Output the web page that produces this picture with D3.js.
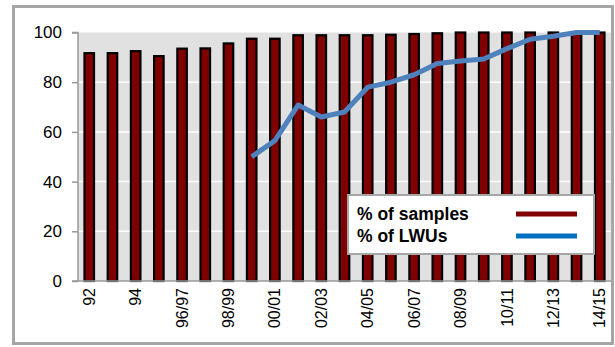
<!DOCTYPE html>
<html><head><meta charset="utf-8">
<script src="https://cdn.jsdelivr.net/npm/d3@7"></script>
<style>body{margin:0;background:#fff;}svg{display:block;}</style>
</head><body>
<svg id="c" width="615" height="347"></svg>
<script>
const categories = ["92","93","94","95","96/97","97/98","98/99","99/00","00/01","01/02","02/03","03/04","04/05","05/06","06/07","07/08","08/09","09/10","10/11","11/12","12/13","13/14","14/15"];
const tickLabels = ["92","94","96/97","98/99","00/01","02/03","04/05","06/07","08/09","10/11","12/13","14/15"];
const samples = [91.7,91.7,92.5,90.5,93.5,93.6,95.6,97.5,97.5,98.9,98.9,98.9,98.9,99.1,99.4,99.7,100,100,100,100,100,100,100];
const lwus = [null,null,null,null,null,null,null,50,56.5,70.8,66,68,78,80,83,87.5,88.5,89.3,93.5,97.3,98.5,100,100];
const yTicks = [0,20,40,60,80,100];
const seriesNames = ["% of samples","% of LWUs"];

const svg = d3.select("#c");
const L = 78, R = 611, T = 32.5, B = 281;
const x = d3.scaleBand().domain(categories).range([L, R]).paddingInner(0.59).paddingOuter(0.28);
const y = d3.scaleLinear().domain([0,100]).range([B, T]);

// outer frame
svg.append("rect").attr("x",13.5).attr("y",6.5).attr("width",599).attr("height",337)
  .attr("fill","#fff").attr("stroke","#a6a6a6").attr("stroke-width",3);

// plot background
svg.append("rect").attr("x",L).attr("y",T).attr("width",R-L).attr("height",B-T).attr("fill","#e1e1e1");

// gridlines
svg.append("g").selectAll("line").data(yTicks.filter(d=>d>0 && d<100)).join("line")
  .attr("x1",L).attr("x2",R).attr("y1",d=>y(d)).attr("y2",d=>y(d))
  .attr("stroke","#fff").attr("stroke-width",1.5);

// bars
svg.append("g").selectAll("rect").data(categories).join("rect")
  .attr("x",d=>x(d)).attr("width",x.bandwidth())
  .attr("y",(d,i)=>y(samples[i])).attr("height",(d,i)=>y(0)-y(samples[i]))
  .attr("fill","#800000").attr("stroke","#000").attr("stroke-width",2.2);

// y axis
const ya = svg.append("g").attr("transform",`translate(${L},0)`)
  .call(d3.axisLeft(y).tickValues(yTicks).tickSize(6).tickPadding(10));
ya.select(".domain").attr("stroke","#999").attr("stroke-width",1.5).attr("d",`M-6,${T}H0V${B}`);
ya.selectAll(".tick line").attr("stroke","#999").attr("stroke-width",1.5);
ya.selectAll("text").attr("font-family","Liberation Sans, Arial, sans-serif").attr("font-size",17).attr("fill","#000");

// x axis
const xa = svg.append("g").attr("transform",`translate(0,${B})`)
  .call(d3.axisBottom(x).tickValues(tickLabels).tickSize(0).tickPadding(0));
xa.select(".domain").attr("stroke","#999").attr("stroke-width",1.5).attr("d",`M${L-6},0H${R}`);
xa.selectAll("text").attr("font-family","Liberation Sans, Arial, sans-serif").attr("font-size",16).attr("fill","#000")
  .attr("transform","rotate(-90)").attr("text-anchor","end").attr("x",-7).attr("y",0).attr("dy","0.35em");

// line
const line = d3.line().defined(d=>d!=null)
  .x((d,i)=>x(categories[i])+x.bandwidth()/2).y(d=>y(d));
svg.append("path").datum(lwus).attr("d",line).attr("fill","none")
  .attr("stroke","#4f81bd").attr("stroke-width",5).attr("stroke-linejoin","round");

// legend
const lg = svg.append("g");
lg.append("rect").attr("x",348).attr("y",195).attr("width",246).attr("height",59)
  .attr("fill","#fff").attr("stroke","#a6a6a6").attr("stroke-width",2);
const legendColors = ["#800000","#0070c0"];
seriesNames.forEach((n,i)=>{
  const yy = 214 + i*22;
  lg.append("text").attr("x",357).attr("y",yy).attr("dy","0.35em").text(n)
    .attr("font-family","Liberation Sans, Arial, sans-serif").attr("font-weight","bold").attr("font-size",17.5);
  lg.append("line").attr("x1",516).attr("x2",577).attr("y1",yy).attr("y2",yy)
    .attr("stroke",legendColors[i]).attr("stroke-width",5);
});
</script>
</body></html>
